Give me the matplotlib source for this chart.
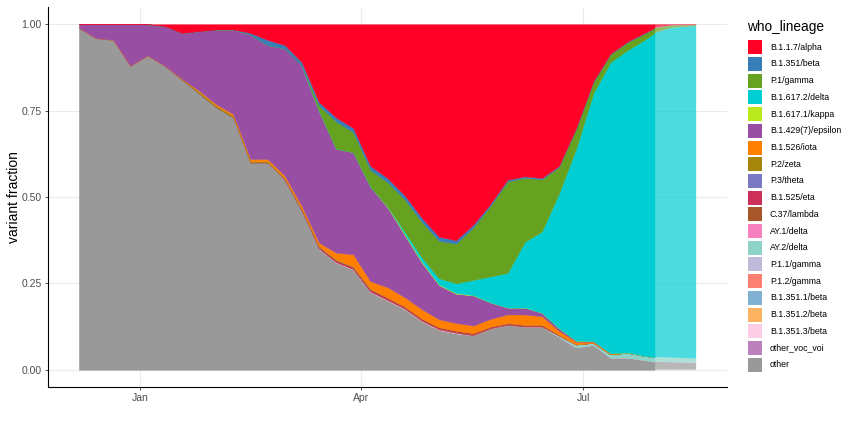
import matplotlib
matplotlib.use("Agg")
import matplotlib.pyplot as plt
import matplotlib.dates as mdates
from matplotlib.patches import Rectangle
import numpy as np
import pandas as pd

plt.rcParams['font.family'] = ['Liberation Sans', 'DejaVu Sans']

# ---------------- data ----------------
dates = list(pd.date_range("2020-12-07", "2021-07-26", freq="7D")) + \
    [pd.Timestamp("2021-07-30"), pd.Timestamp("2021-08-06"), pd.Timestamp("2021-08-16")]
dates = pd.to_datetime(dates)

lineages = ["B.1.1.7/alpha", "B.1.351/beta", "P.1/gamma", "B.1.617.2/delta",
            "B.1.617.1/kappa", "B.1.429(7)/epsilon", "B.1.526/iota", "P.2/zeta",
            "P.3/theta", "B.1.525/eta", "C.37/lambda", "AY.1/delta", "AY.2/delta",
            "P.1.1/gamma", "P.1.2/gamma", "B.1.351.1/beta", "B.1.351.2/beta",
            "B.1.351.3/beta", "other_voc_voi", "other"]

colors = ["#FF0026", "#377EB8", "#66A11F", "#00CED2", "#B9E81C", "#984EA3",
          "#FF7F00", "#A6860A", "#7B78C4", "#CC2F5A", "#A65628", "#F781BF",
          "#8DD3C7", "#BEBADA", "#FB8072", "#80B1D3", "#FDB462", "#FCCDE5",
          "#BC80BD", "#999999"]

alpha_v = [0, 0, 0, 0, 0, .005, .025, .02, .015, .015, .025, .045, .06, .11, .225, .27,
           .30, .41, .445, .495, .56, .615, .625, .58, .52, .45, .44, .445, .41, .30, .165,
           .085, .05, .025, .01, .003, .002]
beta_v = [0, 0, 0, 0, 0, 0, 0, 0, 0, 0, .005, .015, .01, .01, .01, .012, .012, .012, .012,
          .012, .012, .012, .01, .008, .006, .005, .004, .004, .003, .003, .003, .002, .002,
          .002, .001, .001, 0]
gamma_v = [0] * 14 + [.015, .078, .058, .048, .07, .093, .103, .108, .115, .152, .204, .265,
                      .186, .151, .077, .057, .032, .023, .023, .018, .014, .006, .003]
delta_v = [0] * 19 + [.007, .012, .018, .028, .044, .075, .10, .19, .235, .39, .556, .717,
                      .842, .875, .915, .939, .955, .963]
kappa_v = [0] * 18 + [.003, .003, .003, .002, .002, .001] + [0] * 13
epsilon_v = [.01, .04, .045, .12, .09, .115, .132, .172, .216, .245, .36, .33, .368, .406,
             .382, .301, .296, .274, .231, .18, .135, .099, .085, .087, .048, .02, .02, .01,
             .007, .003, .002, .001, .001, 0, 0, 0, 0]
iota_v = [0] * 7 + [.003, .004, .005, .006, .006, .007, .008, .01, .02, .035, .022, .03, .027,
                    .027, .023, .022, .022, .022, .025, .03, .025, .012, .008, .003, .002,
                    0, 0, 0, 0, 0]
zeta_v = [0] * 6 + [.003, .005, .005, .005, .004, .004, .003, .003, .002, .002, .002, .002] + [0] * 19
theta_v = [0] * 37
eta_v = [0] * 12 + [.002, .003, .004, .005, .005, .005, .005, .004, .004, .004, .004, .004,
                    .003, .003, .003, .003, .002] + [0] * 8
lambda_v = [0] * 18 + [.002] * 10 + [0] * 9
ay1_v = [0] * 37
ay2_v = [0] * 28 + [.004, .008, .006, .01, .014, .012, .013, .013, .012]
p11_v = [0] * 37
p12_v = [0] * 37
b13511_v = [0] * 37
b13512_v = [0] * 37
b13513_v = [0] * 14 + [.002] * 9 + [0] * 14
other_voc_v = [0] * 37
other_v = [.99, .96, .955, .88, .91, .88, .84, .80, .76, .73, .60, .60, .55, .46, .35, .31,
           .29, .225, .20, .175, .14, .115, .105, .10, .12, .13, .125, .125, .095, .065,
           .072, .035, .035, .028, .023, .022, .02]

series = [alpha_v, beta_v, gamma_v, delta_v, kappa_v, epsilon_v, iota_v, zeta_v, theta_v,
          eta_v, lambda_v, ay1_v, ay2_v, p11_v, p12_v, b13511_v, b13512_v, b13513_v,
          other_voc_v, other_v]

# ---------------- figure ----------------
W, H = 850, 425
fig = plt.figure(figsize=(W / 100, H / 100), dpi=100)
ax = fig.add_axes([48 / W, 1 - 387 / H, (727 - 48) / W, (387 - 7) / H])

vals = np.array(series, dtype=float)
vals = vals / vals.sum(axis=0, keepdims=True)   # position = "fill"
# ggplot stacks first level on top -> reverse for stackplot (bottom first)
stack_vals = vals[::-1]
stack_cols = colors[::-1]

cut = 34  # 2021-07-30 : last, still incomplete, data drawn lighter
polys = ax.stackplot(dates[:cut + 1], stack_vals[:, :cut + 1], colors=stack_cols,
                     linewidth=0.3, zorder=2)
for p, c in zip(polys, stack_cols):
    p.set_edgecolor(c)
polys2 = ax.stackplot(dates[cut:], stack_vals[:, cut:], colors=stack_cols,
                      alpha=0.7, linewidth=0, zorder=2)

x0 = mdates.date2num(dates[0])
x1 = mdates.date2num(dates[-1])
span = x1 - x0
ax.set_xlim(x0 - 0.05 * span, x1 + 0.05 * span)
ax.set_ylim(-0.05, 1.05)

ax.xaxis.set_major_locator(mdates.MonthLocator(bymonth=[1, 4, 7]))
ax.xaxis.set_major_formatter(mdates.DateFormatter("%b"))
ax.set_yticks([0, 0.25, 0.5, 0.75, 1.0])
ax.set_yticklabels(["0.00", "0.25", "0.50", "0.75", "1.00"])

ax.grid(True, color="#EBEBEB", linewidth=0.8, zorder=0)
ax.set_axisbelow(True)
for s in ["top", "right"]:
    ax.spines[s].set_visible(False)
for s in ["left", "bottom"]:
    ax.spines[s].set_color("black")
    ax.spines[s].set_linewidth(0.8)
ax.tick_params(axis="both", colors="#333333", labelcolor="#4D4D4D", labelsize=7.5,
               length=2.5, width=0.6, pad=2)
ax.set_ylabel("variant fraction", fontsize=10, color="black", labelpad=0)

# ---------------- legend (ggplot-style, drawn manually) ----------------
fig.text(747 / W, 1 - 27 / H, "who_lineage", fontsize=9.8, va="center", ha="left")
for i, (lab, col) in enumerate(zip(lineages, colors)):
    yc = 47.3 + 16.7 * i
    fig.add_artist(Rectangle((748 / W, 1 - (yc + 7) / H), 14 / W, 14 / H,
                             transform=fig.transFigure, facecolor=col, edgecolor="none"))
    fig.text(770 / W, 1 - yc / H, lab, fontsize=6.3, va="center", ha="left", color="black")

fig.savefig("out.png", dpi=100)
